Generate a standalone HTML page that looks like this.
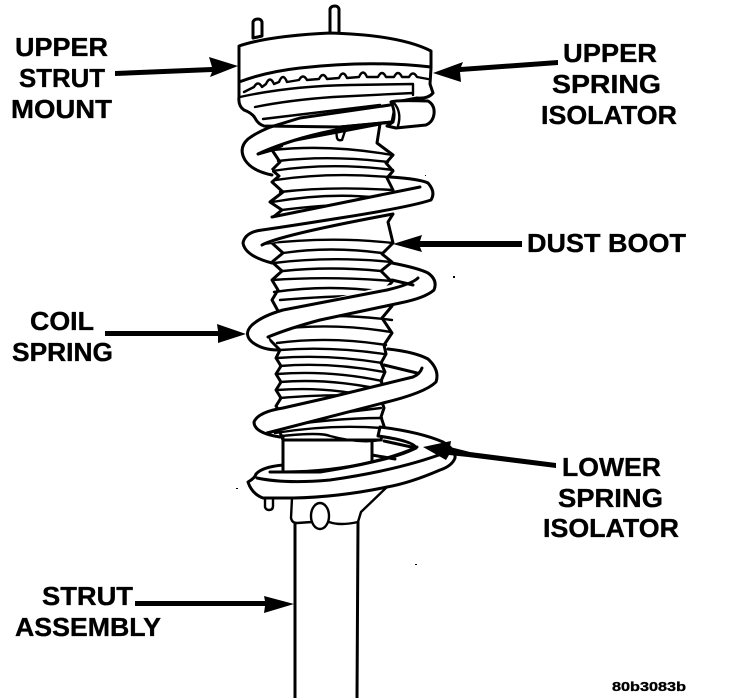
<!DOCTYPE html>
<html><head><meta charset="utf-8"><style>
html,body{margin:0;padding:0;background:#fff}
svg{display:block}
text{font-family:"Liberation Sans",sans-serif;font-weight:bold;fill:#000;stroke:#000;stroke-width:.35}
.l{fill:none;stroke:#000;stroke-width:3;stroke-linecap:round;stroke-linejoin:round}
.t{stroke-width:2.4}
.w{fill:#fff;stroke:#000;stroke-width:3;stroke-linejoin:round;stroke-linecap:round}
.f{fill:#fff;stroke:none}
</style></head><body>
<svg width="736" height="698" viewBox="0 0 736 698" xmlns="http://www.w3.org/2000/svg">
<!-- strut -->
<path class="l" d="M295 523L295 698M358 522L357 698"/>
<path class="l t" d="M265 499L265 507Q266 510 269 510Q273 510 273 506L273 499"/>
<path class="l t" d="M292 498L291 518Q292 523 297 523L312 522M329 522Q340 526 358 522L361 512L388 486"/>
<ellipse class="l t" cx="320" cy="516" rx="9" ry="13"/>
<!-- boot -->
<path class="w" d="M380 124L377 143L393 155L386 163L393 171L387 178L393 190L394 200L393 214L388 222L393 243L382 254L392 262L381 271L392 282L382 293L392 306L382 318L392 333L384 345L386 354L381 363L385 372L381 381L385 390L381 399L384 408L381 417L384 426L381 440L283 440L279 430L276 422L281 414L276 406L281 398L276 390L281 382L276 374L281 366L276 358L280 350L268 338L283 320L272 300L278 290L272 280L282 271L272 262L283 253L272 243L283 232L272 218L282 210L270 202L283 192L272 182L279 176L272 170L280 162L272 150L258 154L280 143Z"/>
<path class="l t" d="M272 150Q330 144 392 155M278 161Q330 155 388 162M272 171Q330 162 393 170M275 180Q330 172 388 177M280 192Q330 186 392 190M272 202Q330 192 380 198M282 210Q330 204 360 205"/>
<path class="l t" d="M262 244Q330 236 393 243M283 253Q330 246 382 253M274 263Q330 256 392 262M283 271Q330 266 381 271M272 280Q330 276 392 281M274 292Q330 284 385 292M280 300Q330 296 360 296"/>
<path class="l t" d="M283 320Q330 312 392 320M272 330Q330 322 391 332M277 343Q330 336 386 345M280 350Q330 346 384 354M277 358Q330 354 382 363M280 366Q330 362 384 372M277 374Q330 370 382 381M280 382Q330 378 384 390M277 390Q330 386 381 399M280 398Q330 394 360 396"/>
<path class="l t" d="M285 420Q330 414 381 408M270 428Q330 418 382 418M275 433Q330 424 382 428M282 436Q320 432 330 436Q360 444 381 440"/>
<path class="l t" d="M258 154L282 146L272 150M336 130L337 138Q338 141 342 140L346 128"/>
<!-- lower seat -->
<path class="w" d="M380 427Q420 432 443 442Q456 450 455 458Q452 466 440 470Q410 483 387 487Q340 497 293 498L263 498Q252 494 248 482Q255 478 256 474Q262 467 283 465L283 472Q330 472 372 462Q400 456 416 448Q414 441 378 436Z"/>
<path class="l" d="M257 478Q285 484 330 480Q400 470 447 452M270 472L320 472Q385 462 417 447M384 441L416 448"/>
<path class="l" d="M283 436L283 472M372 441L372 462M372 455L395 459"/>
<!-- coil 1 -->
<path class="f" d="M272 175Q252 171 245 160Q238 148 248 139Q262 128 300 117L393 104L393 122Q340 127 302 138Q275 146 258 154Q260 162 272 170Z"/>
<path class="l" d="M272 175Q252 171 245 160Q238 148 248 139Q262 128 300 117L393 104M393 122Q340 127 302 138Q275 146 258 154"/>
<!-- coil 2 -->
<path class="f" d="M390 177Q420 179 428 183Q436 192 431 201L393 215L262 245Q264 254 273 263Q258 262 248 254Q240 245 245 235Q252 226 272 217L420 187Z"/>
<path class="l" d="M390 177Q420 179 428 183Q436 192 431 200Q410 207 340 218Q290 226 262 230Q245 232 243 243Q245 256 272 263M420 187L272 217M262 245Q280 235 393 214"/>
<!-- coil 3 -->
<path class="f" d="M392 263Q418 268 428 273Q438 280 434 290Q425 298 400 303L320 320Q290 328 268 337Q270 345 278 350Q262 350 252 342Q243 334 252 325Q265 315 283 310L420 278Z"/>
<path class="l" d="M392 263Q418 268 428 273Q438 280 434 290Q425 298 400 303L320 320Q290 328 268 337M418 278Q412 284 387 290L283 310Q262 316 252 325Q243 334 252 342Q262 350 278 350M392 280L413 285"/>
<!-- coil 4 -->
<path class="f" d="M388 349Q415 352 428 359Q440 370 436 382Q425 393 383 403L267 434L258 433Q250 424 256 416Q262 411 283 407L413 377L422 368Z"/>
<path class="l" d="M388 349Q415 352 428 359Q440 370 436 382Q425 393 383 403L267 433M422 368Q420 374 413 377L327 398L283 408Q258 412 254 422Q254 433 280 437M384 365L417 373"/>
<!-- upper mount -->
<path class="w" d="M253 38L253 22Q254 19 258 19Q261 19 262 22L262 36Z"/>
<path class="w" d="M330 34L330 9Q331 6 335 6Q338 6 339 9L339 34Z"/>
<path class="w" d="M239 46Q268 36 330 33Q400 35 431 51L431 68L430 84L433 93Q428 99 417 98L396 102L392 122L340 127L264 126Q258 124 255 118Q252 113 244 110Q238 106 239 97L239 83Z"/>
<path class="l" d="M239 82Q265 72 300 68Q370 60 431 67"/>
<path class="l t" d="M244 92L254 87Q258 80 262 87L266 84Q270 75 274 84L279 82Q283 72 287 82L299 80Q303 73 307 80L319 79Q323 71 327 79L339 78Q343 69 347 78L359 77Q363 68 367 77L378 77Q382 69 386 77L394 77Q398 69 402 77L409 77Q413 70 417 77L428 79"/>
<path class="l t" d="M240 97Q290 86 350 85L413 84L413 95M255 107Q290 100 333 97L413 93"/>
<path class="l t" d="M263 119L380 105"/>
<path class="l" d="M267 128L300 118L390 105M393 122L340 127"/>
<path class="w" d="M391 102Q395 100 428 101Q435 105 434 114Q433 122 426 125L396 128L387 126L393 122Q396 112 391 102Z"/>
<path class="l t" d="M394 103Q402 112 398 126"/>
<!-- arrows -->
<g fill="#000">
<path d="M115 71L212 67L209 57L238 66L210 77L212 72L115 76Z"/>
<path d="M558 60L461 67L463 62L433 73L461 82L460 72L558 65Z"/>
<path d="M522 241L420 241L422 235L393 244L422 252L420 247L522 247Z"/>
<path d="M105 331L218 331L217 324L246 334L218 343L218 336L105 336Z"/>
<path d="M556 463L470 452L450 447L451 441L423 447L446 460L449 455L468 457L556 468Z"/>
<path d="M135 601L265 601L264 596L294 604L264 613L265 606L135 606Z"/>
</g>
<!-- specks -->
<g fill="#000"><rect x="453" y="276" width="2" height="2"/><rect x="415" y="564" width="2" height="1"/><rect x="236" y="488" width="2" height="1"/><rect x="425" y="175" width="1" height="1"/></g>
<!-- labels -->
<g font-size="26">
<text x="15" y="56" textLength="93" lengthAdjust="spacingAndGlyphs">UPPER</text>
<text x="19" y="87" textLength="86" lengthAdjust="spacingAndGlyphs">STRUT</text>
<text x="11" y="118" textLength="101" lengthAdjust="spacingAndGlyphs">MOUNT</text>
<text x="563" y="62" textLength="94" lengthAdjust="spacingAndGlyphs">UPPER</text>
<text x="552" y="93" textLength="109" lengthAdjust="spacingAndGlyphs">SPRING</text>
<text x="541" y="124" textLength="136" lengthAdjust="spacingAndGlyphs">ISOLATOR</text>
<text x="527" y="252" textLength="159" lengthAdjust="spacingAndGlyphs">DUST BOOT</text>
<text x="30" y="330" textLength="64" lengthAdjust="spacingAndGlyphs">COIL</text>
<text x="12" y="361" textLength="101" lengthAdjust="spacingAndGlyphs">SPRING</text>
<text x="562" y="476" textLength="99" lengthAdjust="spacingAndGlyphs">LOWER</text>
<text x="558" y="507" textLength="105" lengthAdjust="spacingAndGlyphs">SPRING</text>
<text x="543" y="537" textLength="136" lengthAdjust="spacingAndGlyphs">ISOLATOR</text>
<text x="42" y="605" textLength="91" lengthAdjust="spacingAndGlyphs">STRUT</text>
<text x="15" y="636" textLength="146" lengthAdjust="spacingAndGlyphs">ASSEMBLY</text>
</g>
<text x="612" y="691" font-size="13" textLength="74" lengthAdjust="spacingAndGlyphs">80b3083b</text>
</svg>
</body></html>
